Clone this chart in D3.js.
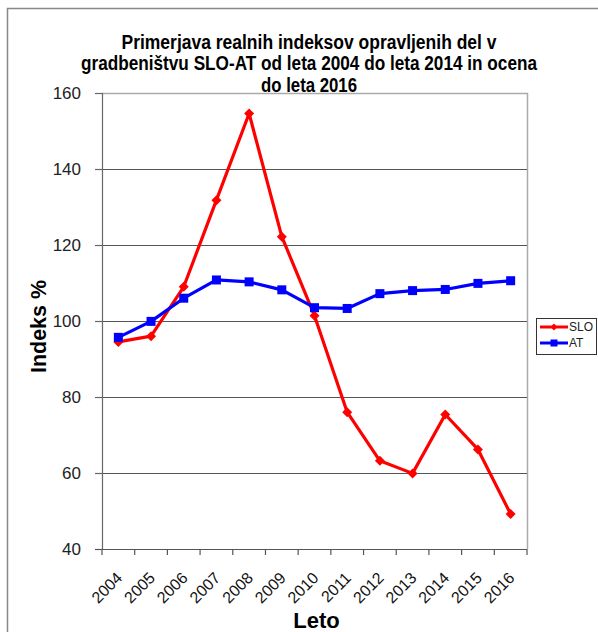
<html>
<head>
<script src="https://cdn.jsdelivr.net/npm/d3@7"></script>
<style>
  body { margin: 0; background: #fff; }
  text { font-family: "Liberation Sans", Arial, sans-serif; }
</style>
</head>
<body>
<svg width="598" height="632"></svg>
<script>
// data
var years = ['2004','2005','2006','2007','2008','2009','2010','2011','2012','2013','2014','2015','2016']
var slo = [94.5, 96, 109, 131.8, 154.6, 122.2, 101.4, 76, 63.2, 59.9, 75.4, 66.2, 49.2]
var at = [95.7, 99.9, 106, 110.8, 110.3, 108.2, 103.5, 103.3, 107.2, 108, 108.3, 109.9, 110.6]
var yTicks = [40, 60, 80, 100, 120, 140, 160]
var titleLines = ['Primerjava realnih indeksov opravljenih del v',
                  'gradbeništvu SLO-AT od leta 2004 do leta 2014 in ocena',
                  'do leta 2016']
var titleWidths = [375, 456, 96]   // the title font is a condensed one

var svg = d3.select('svg')

// outer chart border
svg.append('rect')
    .attr('x', 7.5).attr('y', 8.5)
    .attr('width', 620).attr('height', 640)
    .attr('fill', 'none').attr('stroke', '#888').attr('stroke-width', 1.5)

var pLeft = 102, pRight = 527, pTop = 93, pBottom = 549

var x = d3.scaleBand().domain(years).range([pLeft, pRight])
var y = d3.scaleLinear().domain([40, 160]).range([pBottom, pTop])

// plot area frame (right + top light grey)
svg.append('path')
    .attr('d', 'M' + pLeft + ',' + (pTop + 0.5) + 'H' + (pRight + 0.5) + 'V' + pBottom)
    .attr('fill', 'none').attr('stroke', '#aaa').attr('stroke-width', 1.5)

// grid
svg.append('g')
    .selectAll('line')
    .data(yTicks.filter(function(d){ return d > 40 && d < 160 }))
    .enter()
    .append('line')
    .attr('x1', pLeft).attr('x2', pRight)
    .attr('y1', function(d){ return Math.round(y(d)) + 0.5 })
    .attr('y2', function(d){ return Math.round(y(d)) + 0.5 })
    .attr('stroke', '#555').attr('stroke-width', 1)

// y axis
var yAxis = svg.append('g')
    .attr('transform', 'translate(' + pLeft + ',0)')
    .call(d3.axisLeft(y).tickValues(yTicks).tickSize(7).tickPadding(14))
yAxis.selectAll('line, path').attr('stroke', '#666').attr('stroke-width', 1.2)
yAxis.selectAll('text').attr('font-size', 17).attr('fill', '#222')
    .style('font-family', '"Liberation Sans", Arial, sans-serif')

// x axis: ticks at category boundaries
var xg = svg.append('g')
xg.append('line')
    .attr('x1', pLeft - 7).attr('x2', pRight)
    .attr('y1', pBottom + 0.5).attr('y2', pBottom + 0.5)
    .attr('stroke', '#555').attr('stroke-width', 1.2)
xg.selectAll('.tk')
    .data(years.concat(['end']))
    .enter()
    .append('line')
    .attr('x1', function(d, i){ return pLeft + i * x.bandwidth() })
    .attr('x2', function(d, i){ return pLeft + i * x.bandwidth() })
    .attr('y1', pBottom).attr('y2', pBottom + 6)
    .attr('stroke', '#555').attr('stroke-width', 1.2)
xg.selectAll('text')
    .data(years)
    .enter()
    .append('text')
    .attr('transform', function(d){
        return 'translate(' + (x(d) + x.bandwidth() / 2 + 1) + ',' + (pBottom + 26) + ') rotate(-45)'
    })
    .attr('text-anchor', 'end')
    .attr('dy', '0.35em')
    .attr('font-size', 16)
    .attr('fill', '#111')
    .text(function(d){ return d })

// lines
var line = d3.line()
    .x(function(d, i){ return x(years[i]) + x.bandwidth() / 2 })
    .y(function(d){ return y(d) })

svg.append('path').datum(slo)
    .attr('d', line).attr('fill', 'none')
    .attr('stroke', '#ff0000').attr('stroke-width', 3.2).attr('stroke-linejoin', 'round')
svg.append('path').datum(at)
    .attr('d', line).attr('fill', 'none')
    .attr('stroke', '#0000ff').attr('stroke-width', 3.2).attr('stroke-linejoin', 'round')

svg.selectAll('.dia')
    .data(slo)
    .enter()
    .append('path')
    .attr('d', 'M0,-5L5,0L0,5L-5,0Z')
    .attr('transform', function(d, i){ return 'translate(' + (x(years[i]) + x.bandwidth() / 2) + ',' + y(d) + ')' })
    .attr('fill', '#ff0000')

svg.selectAll('.sq')
    .data(at)
    .enter()
    .append('rect')
    .attr('x', function(d, i){ return x(years[i]) + x.bandwidth() / 2 - 4.5 })
    .attr('y', function(d){ return y(d) - 4.5 })
    .attr('width', 9).attr('height', 9)
    .attr('fill', '#0000ff')

// title
svg.append('g')
    .selectAll('text')
    .data(titleLines)
    .enter()
    .append('text')
    .attr('x', 309)
    .attr('y', function(d, i){ return 48.5 + i * 21.5 })
    .attr('text-anchor', 'middle')
    .attr('font-size', 19.5)
    .attr('font-weight', 'bold')
    .attr('fill', '#000')
    .attr('textLength', function(d, i){ return titleWidths[i] })
    .attr('lengthAdjust', 'spacingAndGlyphs')
    .text(function(d){ return d })

// axis titles
svg.append('text')
    .attr('transform', 'translate(46,326.5) rotate(-90)')
    .attr('text-anchor', 'middle')
    .attr('font-size', 22).attr('font-weight', 'bold')
    .attr('textLength', 93).attr('lengthAdjust', 'spacingAndGlyphs')
    .text('Indeks %')
svg.append('text')
    .attr('x', 316.5).attr('y', 628)
    .attr('text-anchor', 'middle')
    .attr('font-size', 22).attr('font-weight', 'bold')
    .text('Leto')

// legend
var lg = svg.append('g')
lg.append('rect')
    .attr('x', 536.5).attr('y', 318.5).attr('width', 60).attr('height', 36)
    .attr('fill', '#fff').attr('stroke', '#333').attr('stroke-width', 1)
var items = [{name: 'SLO', color: '#ff0000', sym: 'd'}, {name: 'AT', color: '#0000ff', sym: 's'}]
items.forEach(function(it, i){
    var yy = 327 + i * 16
    lg.append('line').attr('x1', 540).attr('x2', 568).attr('y1', yy).attr('y2', yy)
        .attr('stroke', it.color).attr('stroke-width', 3)
    if (it.sym == 'd') {
        lg.append('path').attr('d', 'M0,-3.5L3.5,0L0,3.5L-3.5,0Z')
            .attr('transform', 'translate(554,' + yy + ')').attr('fill', it.color)
    } else {
        lg.append('rect').attr('x', 550.5).attr('y', yy - 3.5).attr('width', 7).attr('height', 7)
            .attr('fill', it.color)
    }
    lg.append('text').attr('x', 569).attr('y', yy).attr('dy', '0.35em')
        .attr('font-size', 12).attr('fill', '#222').text(it.name)
})
</script>
</body>
</html>
